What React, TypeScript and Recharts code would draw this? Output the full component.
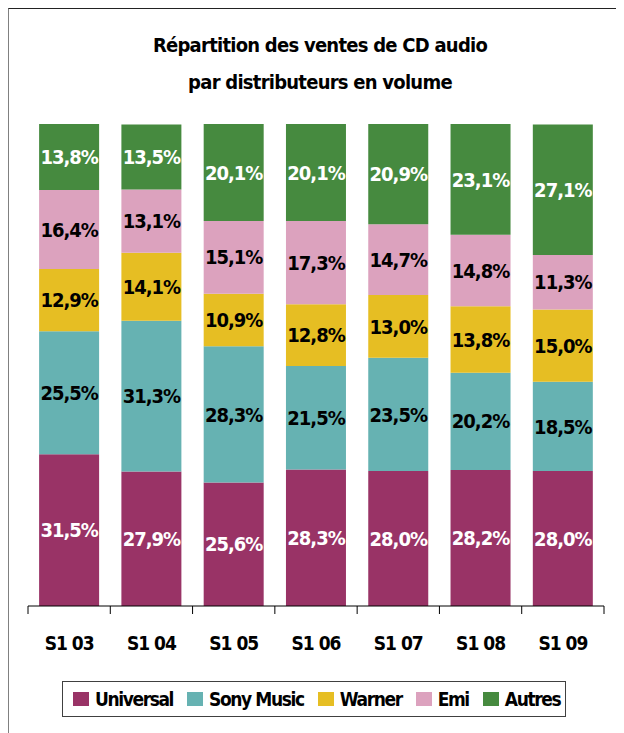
import React from 'react';
import { BarChart, Bar, XAxis, YAxis, LabelList } from 'recharts';

const categories = ['S1 03', 'S1 04', 'S1 05', 'S1 06', 'S1 07', 'S1 08', 'S1 09'];
const universal = [31.5, 27.9, 25.6, 28.3, 28.0, 28.2, 28.0];
const sonyMusic = [25.5, 31.3, 28.3, 21.5, 23.5, 20.2, 18.5];
const warner = [12.9, 14.1, 10.9, 12.8, 13.0, 13.8, 15.0];
const emi = [16.4, 13.1, 15.1, 17.3, 14.7, 14.8, 11.3];
const autres = [13.8, 13.5, 20.1, 20.1, 20.9, 23.1, 27.1];

const seriesKeys = ['universal', 'sony', 'warner', 'emi', 'autres'];
const seriesNames = ['Universal', 'Sony Music', 'Warner', 'Emi', 'Autres'];
const seriesColors = ['#993366', '#66B2B2', '#E6BE23', '#DCA2BE', '#468A3F'];
const labelColors = ['#FFFFFF', '#000000', '#000000', '#000000', '#FFFFFF'];
const seriesValues = [universal, sonyMusic, warner, emi, autres];

const titleLines = ['Répartition des ventes de CD audio', 'par distributeurs en volume'];

const data = categories.map((cat, i) => {
  const row: Record<string, any> = { cat };
  seriesKeys.forEach((k, s) => {
    row[k] = seriesValues[s][i];
  });
  return row;
});

const FONT = "'DejaVu Sans Condensed', 'Liberation Sans Narrow', 'Arial Narrow', sans-serif";

const fmt = (v: any) => `${Number(v).toFixed(1).replace('.', ',')}%`;

const CHART_W = 616;
const CHART_H = 725;
const MARGIN = { top: 116, right: 20, left: 20, bottom: 67 };

const AxisTick = (props: any) => {
  const { x, y, payload, index, visibleTicksCount } = props;
  const fallback = (CHART_W - MARGIN.left - MARGIN.right) / categories.length / 2;
  const half = payload && typeof payload.offset === 'number' && payload.offset > 0 ? payload.offset : fallback;
  const count = visibleTicksCount ?? categories.length;
  return (
    <g>
      <line x1={x - half} x2={x - half} y1={y} y2={y + 8} stroke="#000" strokeWidth={1} />
      {index === count - 1 && (
        <line x1={x + half} x2={x + half} y1={y} y2={y + 8} stroke="#000" strokeWidth={1} />
      )}
      <text
        x={x}
        y={y + 44}
        textAnchor="middle"
        fill="#000"
        fontFamily={FONT}
        fontWeight="bold"
        fontSize={19}
        letterSpacing={-1}
      >
        {payload.value}
      </text>
    </g>
  );
};

export default function App() {
  return (
    <div
      style={{
        position: 'relative',
        width: CHART_W,
        height: CHART_H,
        boxSizing: 'border-box',
        borderLeft: '1px solid #808080',
        borderTop: '1px solid #222',
        background: '#fff',
        overflow: 'hidden',
      }}
    >
      <div
        style={{
          position: 'absolute',
          left: 11,
          top: 18,
          width: 600,
          textAlign: 'center',
          fontFamily: FONT,
          fontWeight: 'bold',
          fontSize: 20,
          letterSpacing: -0.75,
          lineHeight: '37px',
          color: '#000',
        }}
      >
        {titleLines.map((t) => (
          <div key={t}>{t}</div>
        ))}
      </div>
      <div style={{ position: 'absolute', left: -1, top: -1 }}>
        <BarChart
          width={CHART_W}
          height={CHART_H}
          data={data}
          margin={MARGIN}
          barCategoryGap="13.5%"
        >
          <XAxis
            dataKey="cat"
            axisLine={{ stroke: '#000', strokeWidth: 1 }}
            tickLine={false}
            tickSize={0}
            tickMargin={0}
            height={60}
            interval={0}
            tick={<AxisTick />}
          />
          <XAxis
            xAxisId="top"
            dataKey="cat"
            orientation="top"
            axisLine={{ stroke: '#000', strokeWidth: 1 }}
            tick={false}
            tickLine={false}
            height={0}
          />
          <YAxis
            domain={[0, 100]}
            allowDataOverflow
            axisLine={{ stroke: '#808080', strokeWidth: 1 }}
            tick={false}
            tickLine={false}
            width={0}
          />
          <YAxis
            yAxisId="right"
            orientation="right"
            domain={[0, 100]}
            axisLine={{ stroke: '#000', strokeWidth: 1 }}
            tick={false}
            tickLine={false}
            width={0}
          />
          {seriesKeys.map((k, s) => (
            <Bar
              key={k}
              dataKey={k}
              name={seriesNames[s]}
              stackId="a"
              fill={seriesColors[s]}
              isAnimationActive={false}
            >
              <LabelList
                dataKey={k}
                position="center"
                formatter={fmt}
                fill={labelColors[s]}
                fontFamily={FONT}
                fontWeight="bold"
                fontSize={20}
                letterSpacing={-1}
              />
            </Bar>
          ))}
        </BarChart>
      </div>
      <div
        style={{
          position: 'absolute',
          left: 53,
          top: 672,
          width: 504,
          height: 36,
          boxSizing: 'border-box',
          border: '1px solid #404040',
          display: 'flex',
          alignItems: 'center',
          paddingLeft: 10,
          fontFamily: FONT,
          fontWeight: 'bold',
          fontSize: 19,
          letterSpacing: -1.4,
          color: '#000',
          whiteSpace: 'nowrap',
          overflow: 'hidden',
        }}
      >
        {seriesNames.map((n, s) => (
          <div
            key={n}
            style={{ display: 'flex', alignItems: 'center', marginRight: s < seriesNames.length - 1 ? 14 : 0 }}
          >
            <div style={{ width: 16, height: 14, background: seriesColors[s], marginRight: 6 }} />
            <span>{n}</span>
          </div>
        ))}
      </div>
    </div>
  );
}
